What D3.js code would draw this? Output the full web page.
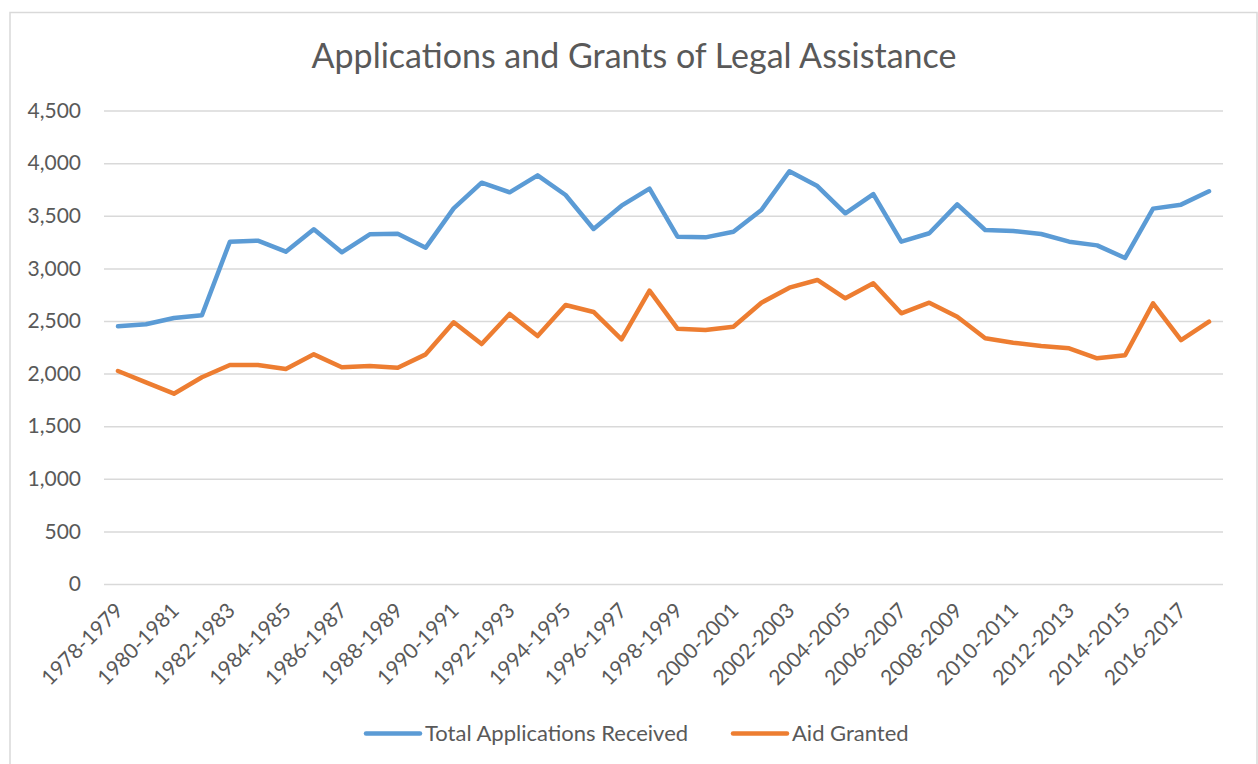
<!DOCTYPE html>
<html>
<head>
<meta charset="utf-8">
<script src="https://cdn.jsdelivr.net/npm/d3@7"></script>
<style>
  body { margin: 0; background: #fff; }
  svg text { font-family: Lato, "Noto Sans", sans-serif; fill: #595959; }
</style>
</head>
<body>
<div id="chart"></div>
<script>
// Fiscal years
var years = [
  "1978-1979", "1979-1980", "1980-1981", "1981-1982", "1982-1983", "1983-1984",
  "1984-1985", "1985-1986", "1986-1987", "1987-1988", "1988-1989", "1989-1990",
  "1990-1991", "1991-1992", "1992-1993", "1993-1994", "1994-1995", "1995-1996",
  "1996-1997", "1997-1998", "1998-1999", "1999-2000", "2000-2001", "2001-2002",
  "2002-2003", "2003-2004", "2004-2005", "2005-2006", "2006-2007", "2007-2008",
  "2008-2009", "2009-2010", "2010-2011", "2011-2012", "2012-2013", "2013-2014",
  "2014-2015", "2015-2016", "2016-2017", "2017-2018"
];

var totalApplications = [
  2450, 2469, 2529, 2554, 3254, 3264, 3159, 3372, 3153, 3324,
  3330, 3197, 3571, 3815, 3723, 3885, 3698, 3375, 3596, 3758,
  3302, 3295, 3349, 3555, 3923, 3783, 3524, 3707, 3254, 3334,
  3609, 3365, 3356, 3327, 3254, 3219, 3099, 3568, 3606, 3733
];

var aidGranted = [
  2025, 1917, 1809, 1965, 2082, 2082, 2044, 2183, 2060, 2072,
  2056, 2183, 2488, 2281, 2567, 2357, 2652, 2586, 2326, 2788,
  2427, 2415, 2446, 2674, 2817, 2890, 2716, 2858, 2573, 2674,
  2541, 2336, 2294, 2262, 2240, 2145, 2174, 2668, 2319, 2493
];

var yTicks = [0, 500, 1000, 1500, 2000, 2500, 3000, 3500, 4000, 4500];

var seriesNames = ["Total Applications Received", "Aid Granted"];
var seriesColors = ["#5B9BD5", "#ED7D31"];

var svgWidth = 1258;
var svgHeight = 764;

var svg = d3.select("#chart")
  .append("svg")
  .attr("width", svgWidth)
  .attr("height", svgHeight);

// chart frame
svg.append("rect")
  .attr("x", 10)
  .attr("y", 12.5)
  .attr("width", 1247)
  .attr("height", 800)
  .attr("fill", "none")
  .attr("stroke", "#d9d9d9")
  .attr("stroke-width", 1.5);

var plotLeft = 104, plotRight = 1223, plotTop = 110.6, plotBottom = 584;

var x = d3.scalePoint()
  .domain(years)
  .range([plotLeft, plotRight])
  .padding(0.5);

var y = d3.scaleLinear()
  .domain([0, 4500])
  .range([plotBottom, plotTop]);

// title
svg.append("text")
  .attr("x", 634)
  .attr("y", 68)
  .attr("text-anchor", "middle")
  .attr("font-size", "34px")
  .text("Applications and Grants of Legal Assistance");

// gridlines + y labels
var yAxis = d3.axisLeft(y)
  .tickValues(yTicks)
  .tickSize(-(plotRight - plotLeft))
  .tickPadding(23)
  .tickFormat(d3.format(","));

var yG = svg.append("g")
  .attr("transform", `translate(${plotLeft},0)`)
  .call(yAxis);
yG.select(".domain").remove();
yG.selectAll(".tick line")
  .attr("stroke", "#d9d9d9")
  .attr("stroke-width", 1.5);
yG.selectAll(".tick text")
  .attr("font-size", "21px")
  .attr("font-family", "Lato, sans-serif")
  .attr("fill", "#595959");

// x labels, every other year
var xAxis = d3.axisBottom(x)
  .tickValues(years.filter((d, i) => i % 2 === 0))
  .tickSize(0)
  .tickPadding(0);

var xG = svg.append("g")
  .attr("transform", `translate(0,${plotBottom})`)
  .call(xAxis);
xG.select(".domain").remove();
xG.selectAll(".tick text")
  .attr("font-size", "21px")
  .attr("font-family", "Lato, sans-serif")
  .attr("fill", "#595959")
  .attr("text-anchor", "end")
  .attr("dy", null)
  .attr("transform", "translate(6,28) rotate(-45)");

// lines
var line = d3.line()
  .x((d, i) => x(years[i]))
  .y(d => y(d));

[totalApplications, aidGranted].forEach(function (vals, k) {
  svg.append("path")
    .datum(vals)
    .attr("d", line)
    .attr("fill", "none")
    .attr("stroke", seriesColors[k])
    .attr("stroke-width", 4.5)
    .attr("stroke-linejoin", "round")
    .attr("stroke-linecap", "round");
});

// legend
var legendX = [366, 733];
var legend = svg.append("g");
seriesNames.forEach(function (name, k) {
  legend.append("line")
    .attr("x1", legendX[k])
    .attr("x2", legendX[k] + 54)
    .attr("y1", 733.5)
    .attr("y2", 733.5)
    .attr("stroke", seriesColors[k])
    .attr("stroke-width", 4.5)
    .attr("stroke-linecap", "round");
  legend.append("text")
    .attr("x", legendX[k] + 59)
    .attr("y", 741)
    .attr("font-size", "22px")
    .text(name);
});
</script>
</body>
</html>
